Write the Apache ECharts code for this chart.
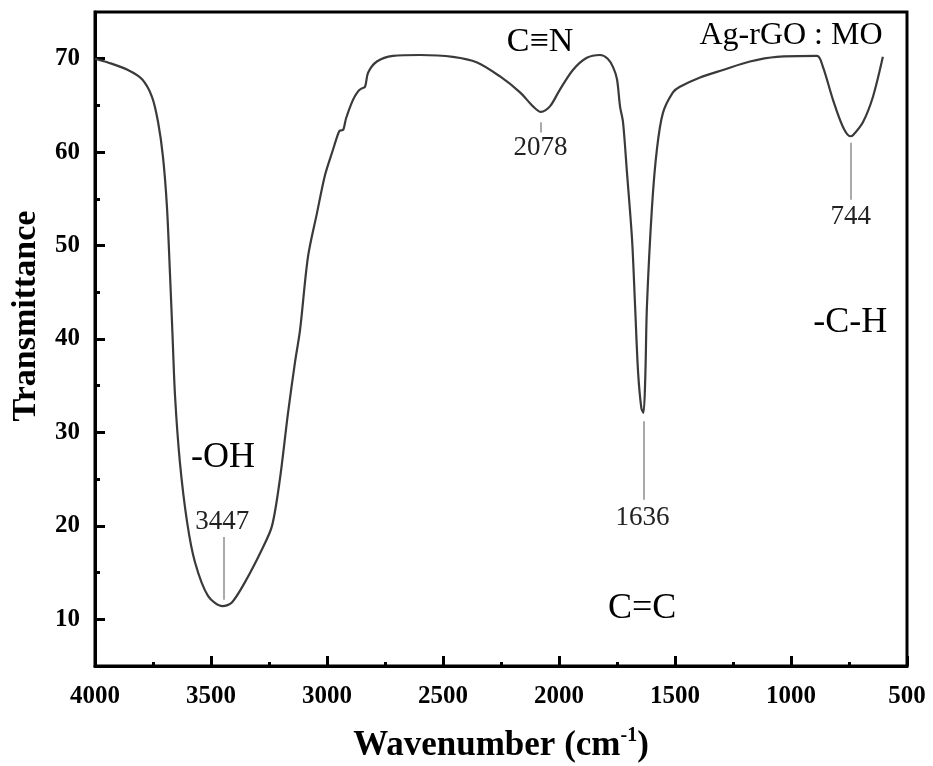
<!DOCTYPE html>
<html>
<head>
<meta charset="utf-8">
<title>FTIR Ag-rGO : MO</title>
<script src="https://cdn.jsdelivr.net/npm/echarts@6/dist/echarts.min.js"></script>
<style>
  html, body { margin: 0; padding: 0; background: #fff; }
  #chart { width: 933px; height: 766px; }
</style>
</head>
<body>
<div id="chart"></div>
<script>
// spectrum (wavenumber cm-1, transmittance)
const wavenumber = [
  4000, 3944, 3858, 3797, 3754, 3728, 3707, 3690, 3677, 3666, 3655, 3634, 3603, 3569, 3513,
  3450, 3410, 3353, 3280, 3237, 3203, 3168, 3138, 3116, 3082, 3043, 3009, 2975, 2953, 2945,
  2930, 2918, 2888, 2866, 2852, 2836, 2823, 2785, 2716, 2599, 2457, 2353, 2254, 2168, 2112,
  2078, 2039, 1996, 1940, 1880, 1823, 1790, 1767, 1750, 1737, 1724, 1707, 1685, 1672, 1659,
  1645, 1636, 1628, 1621, 1599, 1578, 1552, 1509, 1479, 1392, 1293, 1177, 1061, 888, 862,
  819, 776, 744, 733, 690, 647, 604
];
const transmittance = [
  70.0, 69.6, 68.8, 67.8, 65.9, 63.2, 59.5, 54.2, 47.1, 40.5, 33.9, 26.8, 20.4, 16.1, 12.5,
  11.4, 11.8, 14.0, 17.5, 20.0, 25.0, 32.1, 37.5, 41.0, 48.8, 53.5, 57.5, 60.2, 61.9, 62.3,
  62.4, 63.6, 65.6, 66.5, 66.8, 67.0, 68.5, 69.7, 70.3, 70.4, 70.2, 69.6, 68.1, 66.4, 64.9,
  64.3, 64.9, 66.7, 68.8, 70.1, 70.4, 70.0, 69.1, 67.8, 64.9, 63.2, 57.8, 50.6, 43.5, 36.4,
  32.6, 32.1, 36.0, 43.5, 54.2, 60.3, 64.2, 66.4, 67.0, 68.0, 68.8, 69.7, 70.2, 70.3, 69.1,
  65.6, 62.7, 61.7, 61.8, 63.2, 65.9, 70.2
];

// axis ticks
const yMajorTicks = [10, 20, 30, 40, 50, 60, 70];
const yMinorTicks = [15, 25, 35, 45, 55, 65];

// text annotations (anchored in data space)
const noteText = ['C≡N', 'Ag-rGO : MO', '-OH', '-C-H', 'C=C', '3447', '2078', '1636', '744'];
const noteX = [2082, 1000, 3448, 745, 1642, 3452, 2080, 1640, 742];
const noteY = [71.8, 72.5, 27.3, 41.8, 11.1, 20.4, 60.4, 20.9, 53.1];
const noteSize = [34, 32, 36, 36, 36, 27, 27, 27, 27];

// grey leader lines under the peak labels
const leadX = [3447, 2078, 1636, 744];
const leadFrom = [12.1, 63.2, 31.2, 61.0];
const leadTo = [18.8, 62.1, 22.8, 54.9];

const serif = '"Liberation Serif", "Times New Roman", serif';
const chart = echarts.init(document.getElementById('chart'));

chart.setOption({
  animation: false,
  grid: {
    left: 95, right: 26, top: 12, bottom: 100,
    outerBoundsMode: 'none',
    show: true, borderColor: '#000', borderWidth: 3,
  },
  xAxis: {
    type: 'value',
    min: 500, max: 4000, interval: 500,
    inverse: true,
    name: '{b|Wavenumber (cm}{s|-1}{b|)}',
    nameLocation: 'middle',
    nameGap: 60,
    nameTextStyle: {
      rich: {
        b: { fontFamily: serif, fontWeight: 'bold', fontSize: 35, color: '#000', lineHeight: 40 },
        s: { fontFamily: serif, fontWeight: 'bold', fontSize: 20, color: '#000', verticalAlign: 'top', lineHeight: 22 },
      },
    },
    axisLine: { show: true, lineStyle: { color: '#000', width: 3 } },
    axisTick: { inside: true, length: 10, lineStyle: { width: 3, color: '#000' } },
    minorTick: { show: true, splitNumber: 2, length: 4, lineStyle: { width: 3, color: '#000' } },
    axisLabel: {
      margin: 18,
      formatter: (v) => String(v),
      fontFamily: serif, fontWeight: 'bold', fontSize: 25, color: '#000',
      showMinLabel: true, showMaxLabel: true,
    },
    splitLine: { show: false },
  },
  yAxis: [
    {
      type: 'value',
      min: 5, max: 75,
      name: 'Transmittance',
      nameLocation: 'middle',
      nameGap: 52,
      nameTextStyle: {
        fontFamily: serif, fontWeight: 'bold', fontSize: 34, color: '#000',
        padding: [0, 0, 0, 46],
      },
      axisLine: { show: true, lineStyle: { color: '#000', width: 3 } },
      axisTick: { customValues: yMajorTicks, inside: true, length: 10, lineStyle: { width: 3, color: '#000' } },
      axisLabel: {
        customValues: yMajorTicks,
        margin: 15,
        fontFamily: serif, fontWeight: 'bold', fontSize: 25, color: '#000',
      },
      splitLine: { show: false },
    },
    {
      type: 'value',
      min: 5, max: 75,
      position: 'left',
      axisLine: { show: false },
      axisTick: { show: true, customValues: yMinorTicks, inside: true, length: 5, lineStyle: { width: 3, color: '#000' } },
      axisLabel: { show: false },
      splitLine: { show: false },
    },
  ],
  series: [
    {
      name: 'Ag-rGO : MO',
      type: 'line',
      data: wavenumber.map((w, i) => [w, transmittance[i]]),
      showSymbol: false,
      smooth: 0.3,
      lineStyle: { color: '#3a3a3a', width: 2.2 },
      markLine: {
        silent: true,
        symbol: 'none',
        label: { show: false },
        lineStyle: { color: '#aaa', width: 2, type: 'solid', opacity: 1 },
        data: leadX.map((x, i) => [{ coord: [x, leadFrom[i]] }, { coord: [x, leadTo[i]] }]),
      },
    },
    {
      name: 'notes',
      type: 'scatter',
      symbolSize: 0,
      silent: true,
      itemStyle: { color: '#000', opacity: 1 },
      data: noteText.map((t, i) => ({
        value: [noteX[i], noteY[i]],
        name: t,
        label: { fontSize: noteSize[i], color: i >= 5 ? '#222' : '#000' },
      })),
      label: {
        show: true,
        position: 'inside',
        formatter: (p) => p.name,
        fontFamily: serif,
        fontWeight: 'normal',
        color: '#000',
        opacity: 1,
        textBorderWidth: 0,
      },
    },
  ],
});
</script>
</body>
</html>
